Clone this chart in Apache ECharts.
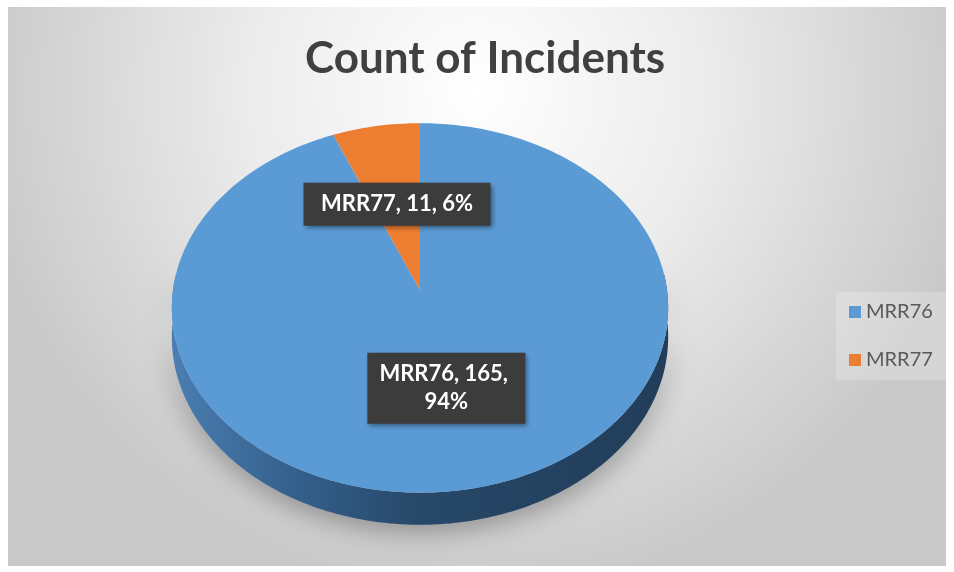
<!DOCTYPE html>
<html>
<head>
<meta charset="utf-8">
<script src="https://cdn.jsdelivr.net/npm/echarts@6/dist/echarts.min.js"></script>
<style>
  html, body { margin: 0; padding: 0; background: #ffffff; }
  #main { width: 954px; height: 572px; }
</style>
</head>
<body>
<div id="main"></div>
<script>
// data
var categories = ['MRR76', 'MRR77'];
var counts = [165, 11];
var colors = ['#5b9bd5', '#ed7d31'];

var total = counts.reduce(function (s, v) { return s + v; }, 0);

// pie geometry (pixels), perspective factor k
var cx = 420, cy = 290, rx = 247, ry = 183, k = 0.097, depth = 29;
var labelWidths = [136, 165];
var labelRadius = [0.52, 0.5];

function project(theta, r) {
  var u = Math.sin(theta) * r, v = -Math.cos(theta) * r;
  var d = 1 - k * v;
  return [cx + rx * u / d, cy + ry * v / d, v];
}

function arcPoints(a0, a1, r, shift) {
  var pts = [];
  var n = Math.max(2, Math.ceil((a1 - a0) / 0.02));
  for (var i = 0; i <= n; i++) {
    var t = a0 + (a1 - a0) * i / n;
    var p = project(t, r);
    pts.push([p[0], p[1] + (shift ? depth / (1 - k * p[2]) : 0)]);
  }
  return pts;
}

var sideGrad = new echarts.graphic.LinearGradient(170, 0, 670, 0, [
  { offset: 0, color: '#4b7eb2' },
  { offset: 0.25, color: '#34608c' },
  { offset: 0.5, color: '#274869' },
  { offset: 1, color: '#213d59' }
], true);

function renderSlice(params, api) {
  var value = api.value(0), before = api.value(1), sum = api.value(2);
  var a0 = before / sum * Math.PI * 2;
  var a1 = (before + value) / sum * Math.PI * 2;
  var idx = params.seriesIndex;
  var children = [];

  // side wall, only the front part is visible
  var s0 = Math.max(a0, Math.PI * 0.47), s1 = Math.min(a1, Math.PI * 1.53);
  if (s1 > s0) {
    var topEdge = arcPoints(s0, s1, 1, false);
    var botEdge = arcPoints(s0, s1, 1, true).reverse();
    children.push({
      type: 'polygon',
      shape: { points: topEdge.concat(botEdge) },
      style: {
        fill: sideGrad,
        shadowBlur: 28, shadowColor: 'rgba(0,0,0,0.35)', shadowOffsetY: 6
      }
    });
  }

  // top face
  children.push({
    type: 'polygon',
    shape: { points: [[cx, cy]].concat(arcPoints(a0, a1, 1, false)) },
    style: { fill: colors[idx] }
  });

  // data label
  var mid = (a0 + a1) / 2;
  var lp = project(mid, labelRadius[idx]);
  var pct = Math.round(value / sum * 100);
  children.push({
    type: 'text',
    x: lp[0], y: lp[1],
    z2: 10,
    style: {
      text: categories[idx] + ', ' + value + ', ' + pct + '%',
      fill: '#ffffff',
      font: 'bold 22px Lato',
      align: 'center', verticalAlign: 'middle',
      width: labelWidths[idx], overflow: 'break',
      lineHeight: 28,
      backgroundColor: '#3c3c3c',
      padding: [8, 11, 7, 11],
      shadowBlur: 5, shadowOffsetX: 2, shadowOffsetY: 2,
      shadowColor: 'rgba(0,0,0,0.45)'
    }
  });

  return { type: 'group', children: children };
}

var chart = echarts.init(document.getElementById('main'));

var series = [];
var running = 0;
for (var i = 0; i < categories.length; i++) {
  series.push({
    name: categories[i],
    type: 'custom',
    coordinateSystem: 'none',
    renderItem: renderSlice,
    itemStyle: { color: colors[i] },
    data: [[counts[i], running, total]]
  });
  running += counts[i];
}

var option = {
  animation: false,
  graphic: [{
    type: 'rect',
    z: -10,
    silent: true,
    shape: { x: 8, y: 7, width: 938, height: 559 },
    style: {
      fill: new echarts.graphic.RadialGradient(0.5, 0.15, 0.9, [
        { offset: 0, color: '#ffffff' },
        { offset: 0.45, color: '#ececec' },
        { offset: 1, color: '#c9c9c9' }
      ])
    }
  }],
  title: {
    text: 'Count of Incidents',
    left: 300,
    top: 32,
    textStyle: {
      fontFamily: 'Lato',
      fontWeight: 'bold',
      fontSize: 44,
      color: '#404040'
    }
  },
  legend: {
    orient: 'vertical',
    left: 836,
    top: 292,
    icon: 'rect',
    itemWidth: 12,
    itemHeight: 12,
    itemGap: 28,
    padding: [10, 16, 10, 13],
    backgroundColor: 'rgba(255,255,255,0.22)',
    data: categories,
    textStyle: { fontFamily: 'Lato', fontSize: 20, color: '#595959' }
  },
  series: series
};

chart.setOption(option);
</script>
</body>
</html>
